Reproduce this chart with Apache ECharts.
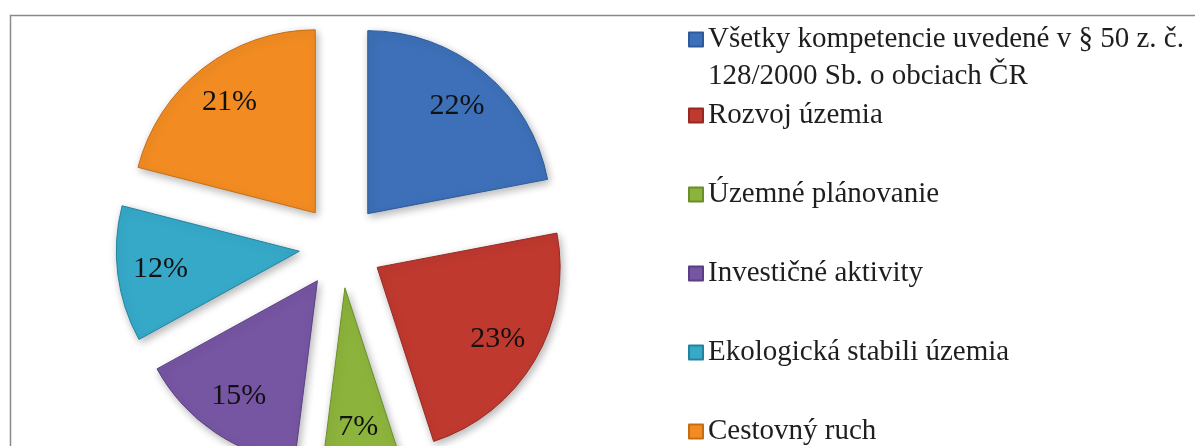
<!DOCTYPE html>
<html>
<head>
<meta charset="utf-8">
<script src="https://cdn.jsdelivr.net/npm/echarts@6/dist/echarts.min.js"></script>
<style>
  html, body { margin: 0; padding: 0; background: #fff; overflow: hidden; }
  #main { width: 1195px; height: 446px; }
</style>
</head>
<body>
<div id="main"></div>
<script>
var names = [
  'Všetky kompetencie uvedené v § 50 z. č. 128/2000 Sb. o obciach ČR',
  'Rozvoj územia',
  'Územné plánovanie',
  'Investičné aktivity',
  'Ekologická stabili územia',
  'Cestovný ruch'
];
var values = [22, 23, 7, 15, 12, 21];
var colors = ['#3d70b8', '#c0392f', '#8cb43c', '#7656a3', '#36a9c9', '#f28c22'];
var borders = ['#2c5a9a', '#962a22', '#6c8e2a', '#5a3f82', '#23839f', '#c86c12'];

var serif = 'Liberation Serif, Times New Roman, serif';

var chart = echarts.init(document.getElementById('main'));

// slices
var pieData = names.map(function (n, i) {
  return {
    name: n,
    value: values[i],
    selected: true,
    itemStyle: { color: colors[i], borderColor: borders[i] }
  };
});
// transparent bigger pie, only used to put the % labels further out in the slices
var labelData = names.map(function (n, i) {
  return { name: n, value: values[i], selected: true };
});

var richText = {
  p: { fontFamily: serif, fontSize: 29, lineHeight: 37, color: '#1e1e1e' },
  t: { fontFamily: serif, fontSize: 29, lineHeight: 37, color: '#1e1e1e' }
};

var option = {
  animation: false,
  color: colors,
  graphic: [{
    type: 'rect',
    left: 8,
    top: 13,
    z: -10,
    shape: { width: 1400, height: 600 },
    style: { fill: 'none', stroke: '#8a8a8a', lineWidth: 1.5 }
  }],
  legend: [{
    orient: 'vertical',
    left: 683,
    top: -17,
    itemWidth: 14,
    itemHeight: 14,
    icon: 'rect',
    selectedMode: false,
    data: [names[0]],
    // empty first line so the icon sits on the first text line
    formatter: function (name) {
      return '{p| }\n{t|Všetky kompetencie uvedené v § 50 z. č.}\n{t|128/2000 Sb. o obciach ČR}';
    },
    textStyle: { rich: richText }
  }, {
    orient: 'vertical',
    left: 683,
    top: 96,
    height: 600,
    itemGap: 50,
    itemWidth: 14,
    itemHeight: 14,
    icon: 'rect',
    selectedMode: false,
    data: names.slice(1),
    formatter: function (name) {
      return '{t|' + name + '}';
    },
    textStyle: { rich: richText }
  }],
  series: [{
    name: 'main',
    type: 'pie',
    center: [341, 246],
    radius: 183,
    startAngle: 90,
    clockwise: true,
    selectedMode: 'multiple',
    selectedOffset: 42,
    avoidLabelOverlap: false,
    itemStyle: {
      borderWidth: 1,
      shadowBlur: 8,
      shadowOffsetX: 2,
      shadowOffsetY: 3,
      shadowColor: 'rgba(0,0,0,0.3)'
    },
    label: { show: false },
    labelLine: { show: false },
    emphasis: { disabled: true },
    data: pieData
  }, {
    name: 'labels',
    type: 'pie',
    center: [341, 246],
    radius: 274,
    startAngle: 90,
    clockwise: true,
    silent: true,
    selectedMode: 'multiple',
    selectedOffset: 42,
    avoidLabelOverlap: false,
    itemStyle: { color: 'rgba(0,0,0,0)' },
    label: {
      position: 'inside',
      formatter: '{c}%',
      color: '#111',
      fontFamily: serif,
      fontSize: 30
    },
    labelLine: { show: false },
    emphasis: { disabled: true },
    data: labelData
  }]
};

chart.setOption(option);
</script>
</body>
</html>
